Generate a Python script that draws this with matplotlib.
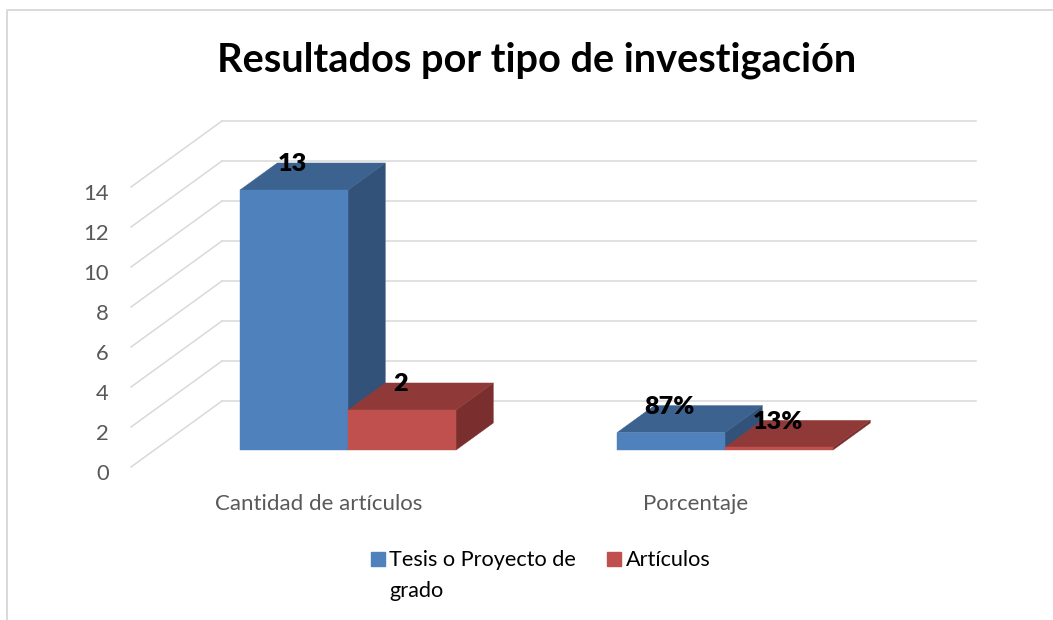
import matplotlib
matplotlib.use("Agg")
import matplotlib.pyplot as plt
from matplotlib.patches import Patch

plt.rcParams['font.family'] = ['Lato', 'DejaVu Sans']

# data
categories = ["Cantidad de artículos", "Porcentaje"]
tesis_values = [13, 0.87]
articulos_values = [2, 0.13]
tesis_labels = ["13", "87%"]
articulos_labels = ["2", "13%"]
y_ticks = [0, 2, 4, 6, 8, 10, 12, 14]
# blank second line keeps the two legend rows on the same baseline
series_names = ["Tesis o Proyecto de\ngrado", "Artículos\n "]

# colours: front, top, side
BLUE = ("#4F81BD", "#3C6290", "#335279")
RED = ("#C0504D", "#8F3A38", "#7A2E2D")
GRID = "#D9D9D9"

# fake 3D: how far the back wall is from the front plane, in data units
WALL_DX = 0.2414
WALL_DY = 3.3
BAR_D0 = 0.2576  # bars start this far into the floor
BAR_D1 = 0.667
BAR_W = 0.2865
BAR_LEFT = 0.227


def proj(x, v, d):
    return x + d * WALL_DX, v + d * WALL_DY


def draw_bar(ax, left, value, colors):
    right = left + BAR_W
    front = [proj(left, 0, BAR_D0), proj(right, 0, BAR_D0), proj(right, value, BAR_D0), proj(left, value, BAR_D0)]
    top = [proj(left, value, BAR_D0), proj(right, value, BAR_D0), proj(right, value, BAR_D1), proj(left, value, BAR_D1)]
    side = [proj(right, 0, BAR_D0), proj(right, 0, BAR_D1), proj(right, value, BAR_D1), proj(right, value, BAR_D0)]
    for pts, c in zip((side, top, front), (colors[2], colors[1], colors[0])):
        xs, ys = zip(*pts)
        ax.fill(xs, ys, color=c, lw=0.3, zorder=3)


def bar_label(ax, left, value, text):
    x, y = proj(left + BAR_W / 2, value, BAR_D0)
    ax.annotate(text, (x, y), xytext=(-1, 18.5), textcoords='offset points', ha='center', va='center',
                fontsize=18.2, fontweight='heavy', color='black', zorder=5)


fig = plt.figure(figsize=(10.53, 6.2), dpi=100)
ax = fig.add_axes([0, 0, 1, 1])
# one x unit is a category (377 px), one y unit is 20 px
ax.set_xlim(-131 / 377, (1053 - 131) / 377)
ax.set_ylim(-(620 - 467) / 20, 467 / 20)
ax.axis('off')

# chart frame, only top and left show in the picture
ax.plot([1, 0.0067, 0.0067], [0.984, 0.984, 0], transform=ax.transAxes, color=GRID, lw=1.4, zorder=1)

n = len(categories)
for t in y_ticks:
    ax.plot([0, WALL_DX], [t, t + WALL_DY], color=GRID, lw=1.1, zorder=1)
    ax.plot([WALL_DX, n + WALL_DX], [t + WALL_DY, t + WALL_DY], color=GRID, lw=1.1, zorder=1)
    ax.annotate(str(t), (0, t), xytext=(-16, -5), textcoords='offset points', ha='right', va='center',
                fontsize=15.8, color='#595959')

for i, name in enumerate(categories):
    ax.annotate(name, (i + 0.5, 0), xytext=(-0.5, -26.5), textcoords='offset points', ha='center', va='center',
                fontsize=16, color='#595959')

for i in range(n):
    left = i + BAR_LEFT
    draw_bar(ax, left, tesis_values[i], BLUE)
    draw_bar(ax, left + BAR_W, articulos_values[i], RED)
    bar_label(ax, left, tesis_values[i], tesis_labels[i])
    bar_label(ax, left + BAR_W, articulos_values[i], articulos_labels[i])

handles = [Patch(color=BLUE[0]), Patch(color=RED[0])]
leg = ax.legend(handles, series_names, ncol=2, loc='upper left', bbox_to_anchor=(0.3523, 0.1135), frameon=False,
                fontsize=15.6, handlelength=0.65, handleheight=0.65, handletextpad=0.2, columnspacing=1.43,
                labelcolor='black', borderpad=0, borderaxespad=0, alignment='left')
for txt in leg.get_texts():
    txt.set_linespacing(1.7)
# move the squares up to the first text line
for h in leg.legend_handles:
    h.set_y(h.get_y() + 12)

ax.text(537 / 1053, 1 - 60 / 620, "Resultados por tipo de investigación", transform=ax.transAxes, ha='center',
        va='center', fontsize=28.6, fontweight='bold', color='black')

fig.savefig("out.png", dpi=100)
